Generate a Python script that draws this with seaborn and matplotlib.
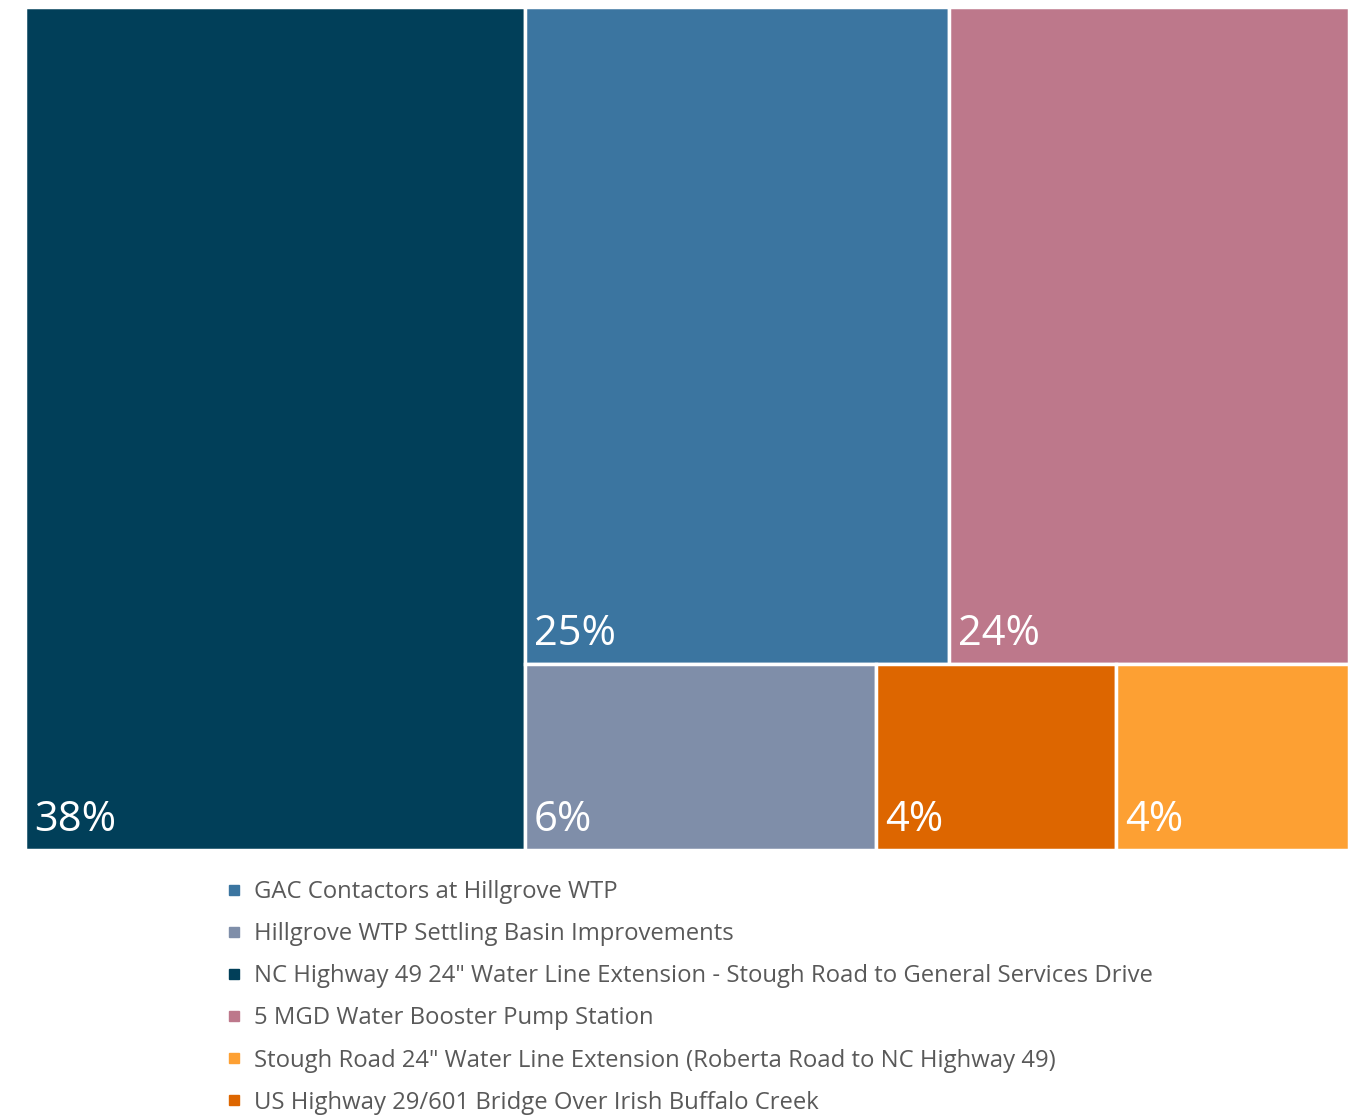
import matplotlib
matplotlib.use("Agg")
import matplotlib.pyplot as plt
import seaborn as sns
import pandas as pd
from matplotlib.lines import Line2D

# ---------------- data ----------------
projects = [
    "GAC Contactors at Hillgrove WTP",
    "Hillgrove WTP Settling Basin Improvements",
    'NC Highway 49 24" Water Line Extension - Stough Road to General Services Drive',
    "5 MGD Water Booster Pump Station",
    'Stough Road 24" Water Line Extension (Roberta Road to NC Highway 49)',
    "US Highway 29/601 Bridge Over Irish Buffalo Creek",
]
shares = [24.9, 5.85, 37.7, 23.5, 3.88, 4.0]
share_labels = ["25%", "6%", "38%", "24%", "4%", "4%"]
colors = ["#3B75A0", "#7F8EA9", "#013F59", "#BD788B", "#FDA033", "#DD6600"]

df = pd.DataFrame({"project": projects, "share": shares,
                   "label": share_labels, "color": colors})

# ---------------- squarified treemap layout ----------------
def layout_row(sizes, x, y, dx, dy):
    width = sum(sizes) / dy
    out = []
    for s in sizes:
        out.append((x, y, width, s / width))
        y += s / width
    return out

def layout_col(sizes, x, y, dx, dy):
    height = sum(sizes) / dx
    out = []
    for s in sizes:
        out.append((x, y, s / height, height))
        x += s / height
    return out

def layout(sizes, x, y, dx, dy):
    return layout_row(sizes, x, y, dx, dy) if dx >= dy else layout_col(sizes, x, y, dx, dy)

def leftover(sizes, x, y, dx, dy):
    if dx >= dy:
        w = sum(sizes) / dy
        return x + w, y, dx - w, dy
    h = sum(sizes) / dx
    return x, y + h, dx, dy - h

def worst(sizes, x, y, dx, dy):
    return max(max(r[2] / r[3], r[3] / r[2]) for r in layout(sizes, x, y, dx, dy))

def squarify(sizes, x, y, dx, dy):
    sizes = list(sizes)
    if not sizes:
        return []
    if len(sizes) == 1:
        return layout(sizes, x, y, dx, dy)
    i = 1
    while i < len(sizes) and worst(sizes[:i], x, y, dx, dy) >= worst(sizes[:i + 1], x, y, dx, dy):
        i += 1
    cur, rem = sizes[:i], sizes[i:]
    return layout(cur, x, y, dx, dy) + squarify(rem, *leftover(cur, x, y, dx, dy))

W, H = 1324.0, 843.0
ordered = df.sort_values("share", ascending=False).reset_index(drop=True)
total = ordered["share"].sum()
areas = ordered["share"] / total * W * H
rects = squarify(areas.tolist(), 0, 0, W, H)
ordered["x"] = [r[0] for r in rects]
ordered["y"] = [r[1] for r in rects]
ordered["w"] = [r[2] for r in rects]
ordered["h"] = [r[3] for r in rects]

# ---------------- drawing ----------------
sns.set_theme(style="white")
plt.rcParams["font.family"] = ["Open Sans", "DejaVu Sans"]

fig = plt.figure(figsize=(13.62, 11.15), dpi=100)
ax = fig.add_axes([25 / 1362, 1 - 850 / 1115, W / 1362, H / 1115])

ax.bar(ordered["x"], ordered["h"], width=ordered["w"], bottom=ordered["y"],
       align="edge", color=ordered["color"], edgecolor="white", linewidth=2.5)

for _, r in ordered.iterrows():
    ax.text(r["x"] + 9, r["y"] + r["h"] - 19, r["label"], color="white",
            fontsize=30, ha="left", va="baseline")

ax.set_xlim(0, W)
ax.set_ylim(H, 0)
ax.axis("off")

handles = [Line2D([0], [0], marker="s", linestyle="none", markersize=7.5,
                  markerfacecolor=c, markeredgecolor=c) for c in df["color"]]
leg = fig.legend(handles, df["project"].tolist(), loc="upper left",
                 bbox_to_anchor=(227 / 1362, 1 - 880 / 1115), frameon=False,
                 fontsize=17.2, handlelength=0.6, handletextpad=0.55,
                 labelspacing=0.76, borderpad=0, borderaxespad=0)
for t in leg.get_texts():
    t.set_color("#595959")

fig.savefig("out.png", dpi=100)
